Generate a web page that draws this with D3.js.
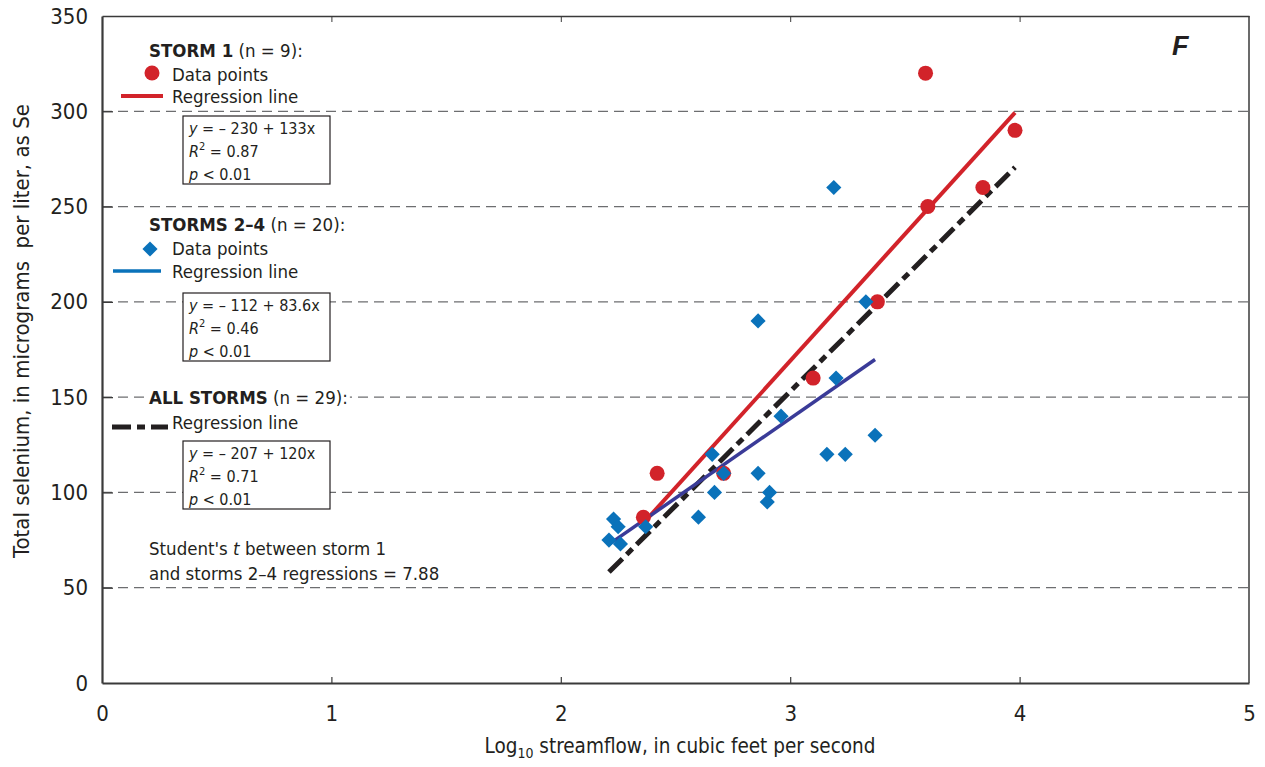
<!DOCTYPE html>
<html>
<head>
<meta charset="utf-8">
<script src="https://cdnjs.cloudflare.com/ajax/libs/d3/7.8.5/d3.min.js"></script>
<style>
  body { margin: 0; background: #fff; }
  svg { display: block; }
  text { font-family: "Liberation Sans Narrow", "Arial Narrow", "DejaVu Sans Condensed", sans-serif; fill: #231f20; }
  .axis path, .axis line { stroke: #3a3a3a; }
  .axis text { font-size: 22px; }
</style>
</head>
<body>
<svg id="plot" width="1265" height="767"></svg>
<script>

var storm1X = [3.59, 3.98, 3.84, 3.60, 3.38, 3.10, 2.42, 2.71, 2.36];
var storm1Y = [320, 290, 260, 250, 200, 160, 110, 110, 87];

var storms24X = [3.19, 3.33, 2.86, 3.20, 2.96, 3.37, 3.16, 3.24, 2.66, 2.86,
                 2.71, 2.67, 2.91, 2.90, 2.60, 2.23, 2.25, 2.37, 2.21, 2.26];
var storms24Y = [260, 200, 190, 160, 140, 130, 120, 120, 120, 110,
                 110, 100, 100, 95, 87, 86, 82, 82, 75, 73];

// regression lines: intercept, slope, x range
var lineNames = ["storm1", "storms24", "all"];
var intercepts = [-230, -112, -207];
var slopes = [133, 83.6, 120];
var lineStart = [2.36, 2.21, 2.21];
var lineEnd = [3.98, 3.37, 3.98];

var xTicks = [0, 1, 2, 3, 4, 5];
var yTicks = [0, 50, 100, 150, 200, 250, 300, 350];
var gridValues = [50, 100, 150, 200, 250, 300];

var red = "#d2232a", blue = "#0a72ba", navy = "#3a3b98", black = "#231f20";

var svg = d3.select("#plot");

var x = d3.scaleLinear().domain([0, 5]).range([102, 1249]);
var y = d3.scaleLinear().domain([0, 350]).range([683, 16]);

// gridlines
svg.append("g")
  .selectAll("line")
  .data(gridValues)
  .enter()
  .append("line")
  .attr("x1", x(0))
  .attr("x2", x(5))
  .attr("y1", function(d) { return y(d); })
  .attr("y2", function(d) { return y(d); })
  .attr("stroke", "#6d6e70")
  .attr("stroke-width", 1.3)
  .attr("stroke-dasharray", "10,6");

// frame
svg.append("line")
  .attr("x1", x(5)).attr("x2", x(5))
  .attr("y1", y(0)).attr("y2", y(350))
  .attr("stroke", "#3a3a3a").attr("stroke-width", 1.5);

svg.append("g")
  .attr("class", "axis")
  .attr("transform", "translate(0," + y(350) + ")")
  .call(d3.axisTop(x).tickValues([1, 2, 3, 4]).tickSizeInner(-6).tickSizeOuter(0).tickFormat(""))
  .select(".domain").attr("stroke-width", 1.5);

svg.append("g")
  .attr("class", "axis")
  .attr("transform", "translate(0," + y(0) + ")")
  .call(d3.axisBottom(x).tickValues(xTicks).tickFormat(d3.format("d")).tickSizeInner(-6).tickSizeOuter(0).tickPadding(22))
  .call(function(g) { g.select(".domain").attr("stroke-width", 2.2); })
  .call(function(g) { g.selectAll(".tick line").attr("stroke-width", 1.2); })
  .call(function(g) { g.selectAll(".tick").filter(function(d) { return d == 0 || d == 5; }).select("line").remove(); });

svg.append("g")
  .attr("class", "axis")
  .attr("transform", "translate(" + x(0) + ",0)")
  .call(d3.axisLeft(y).tickValues(yTicks).tickSizeInner(-11).tickSizeOuter(0).tickPadding(14))
  .call(function(g) { g.select(".domain").attr("stroke-width", 2.2); })
  .call(function(g) { g.selectAll(".tick line").attr("stroke-width", 1.3); })
  .call(function(g) { g.selectAll(".tick").filter(function(d) { return d == 0 || d == 350; }).select("line").remove(); });

svg.selectAll(".axis text").attr("fill", "#231f20");

// regression lines
var lineStyles = {
  storm1: { color: red, width: 4, dash: null },
  storms24: { color: navy, width: 3.5, dash: null },
  all: { color: black, width: 5, dash: "19,6,8,6" }
};

var drawOrder = [2, 0, 1];
drawOrder.forEach(function(i) {
  var st = lineStyles[lineNames[i]];
  svg.append("line")
    .attr("x1", x(lineStart[i]))
    .attr("y1", y(intercepts[i] + slopes[i] * lineStart[i]))
    .attr("x2", x(lineEnd[i]))
    .attr("y2", y(intercepts[i] + slopes[i] * lineEnd[i]))
    .attr("stroke", st.color)
    .attr("stroke-width", st.width)
    .attr("stroke-dasharray", st.dash);
});

// points
svg.append("g")
  .selectAll("circle")
  .data(d3.range(storm1X.length))
  .enter()
  .append("circle")
  .attr("cx", function(i) { return x(storm1X[i]); })
  .attr("cy", function(i) { return y(storm1Y[i]); })
  .attr("r", 7.5)
  .attr("fill", red);

var diamond = d3.symbol().type(d3.symbolSquare).size(115);

svg.append("g")
  .selectAll("path")
  .data(d3.range(storms24X.length))
  .enter()
  .append("path")
  .attr("d", diamond)
  .attr("transform", function(i) { return "translate(" + x(storms24X[i]) + "," + y(storms24Y[i]) + ") rotate(45)"; })
  .attr("fill", blue);

// legend
var legend = svg.append("g");

function heading(gx, gy, bold, rest) {
  var bg = legend.append("rect").attr("fill", "#fff");
  var t = legend.append("text")
    .attr("x", gx).attr("y", gy)
    .style("font-size", "18.5px");
  t.append("tspan").attr("font-weight", "bold").text(bold);
  t.append("tspan").text(rest);
  var b = t.node().getBBox();
  bg.attr("x", b.x - 2).attr("y", b.y + 2).attr("width", b.width + 4).attr("height", b.height - 5);
}

function label(gx, gy, txt) {
  legend.append("text")
    .attr("x", gx).attr("y", gy)
    .style("font-size", "18.5px")
    .text(txt);
}

function statBox(bx, by, eq, r2) {
  legend.append("rect")
    .attr("x", bx).attr("y", by)
    .attr("width", 147).attr("height", 68)
    .attr("fill", "#fff")
    .attr("stroke", "#231f20")
    .attr("stroke-width", 1.2);
  var t1 = legend.append("text").attr("x", bx + 6).attr("y", by + 18).style("font-size", "16px");
  t1.append("tspan").attr("font-style", "italic").text("y");
  t1.append("tspan").text(" = \u2013 " + eq);
  var t2 = legend.append("text").attr("x", bx + 6).attr("y", by + 41).style("font-size", "16px");
  t2.append("tspan").attr("font-style", "italic").text("R");
  t2.append("tspan").attr("dy", -7).style("font-size", "11px").text("2");
  t2.append("tspan").attr("dy", 7).text(" = " + r2);
  var t3 = legend.append("text").attr("x", bx + 6).attr("y", by + 64).style("font-size", "16px");
  t3.append("tspan").attr("font-style", "italic").text("p");
  t3.append("tspan").text(" < 0.01");
}

heading(149, 57, "STORM 1", " (n = 9):");
legend.append("circle").attr("cx", 152).attr("cy", 73).attr("r", 7.5).attr("fill", red);
label(172, 81, "Data points");
legend.append("line").attr("x1", 121).attr("x2", 163).attr("y1", 96).attr("y2", 96)
  .attr("stroke", red).attr("stroke-width", 4);
label(172, 103, "Regression line");
statBox(183, 116, "230 + 133x", "0.87");

heading(149, 231, "STORMS 2\u20134", " (n = 20):");
legend.append("path").attr("d", diamond).attr("transform", "translate(150,249) rotate(45)").attr("fill", blue);
label(172, 255, "Data points");
legend.append("line").attr("x1", 113).attr("x2", 161).attr("y1", 271).attr("y2", 271)
  .attr("stroke", blue).attr("stroke-width", 3.5);
label(172, 278, "Regression line");
statBox(183, 293, "112 + 83.6x", "0.46");

heading(149, 404, "ALL STORMS", " (n = 29):");
legend.append("line").attr("x1", 112).attr("x2", 168).attr("y1", 427).attr("y2", 427)
  .attr("stroke", black).attr("stroke-width", 5).attr("stroke-dasharray", "19,6,8,6");
label(172, 429, "Regression line");
statBox(183, 441, "207 + 120x", "0.71");

var st = legend.append("text").attr("x", 149).attr("y", 555).style("font-size", "18.5px");
st.append("tspan").text("Student's ");
st.append("tspan").attr("font-style", "italic").text("t");
st.append("tspan").text(" between storm 1");
label(149, 580, "and storms 2\u20134 regressions = 7.88");

// panel letter
svg.append("text")
  .attr("x", 1172).attr("y", 55)
  .style("font-family", "'Liberation Sans', Arial, sans-serif")
  .style("font-size", "27px")
  .style("font-weight", "bold")
  .style("font-style", "italic")
  .text("F");

// axis titles, sized to the span they take in the original
var yt = svg.append("text")
  .attr("transform", "translate(29," + 331 + ") rotate(-90)")
  .attr("text-anchor", "middle")
  .style("font-size", "19px")
  .style("white-space", "pre")
  .text("Total selenium, in micrograms  per liter, as Se");
var ylen = yt.node().getComputedTextLength();
yt.style("font-size", Math.min(22, 19 * 485 / ylen) + "px");

var xt = svg.append("text")
  .attr("x", 680).attr("y", 753)
  .attr("text-anchor", "middle")
  .style("font-size", "20.5px");
xt.append("tspan").text("Log");
xt.append("tspan").attr("dy", 5).style("font-size", "14px").text("10");
xt.append("tspan").attr("dy", -5).text(" streamflow, in cubic feet per second");

</script>
</body>
</html>
